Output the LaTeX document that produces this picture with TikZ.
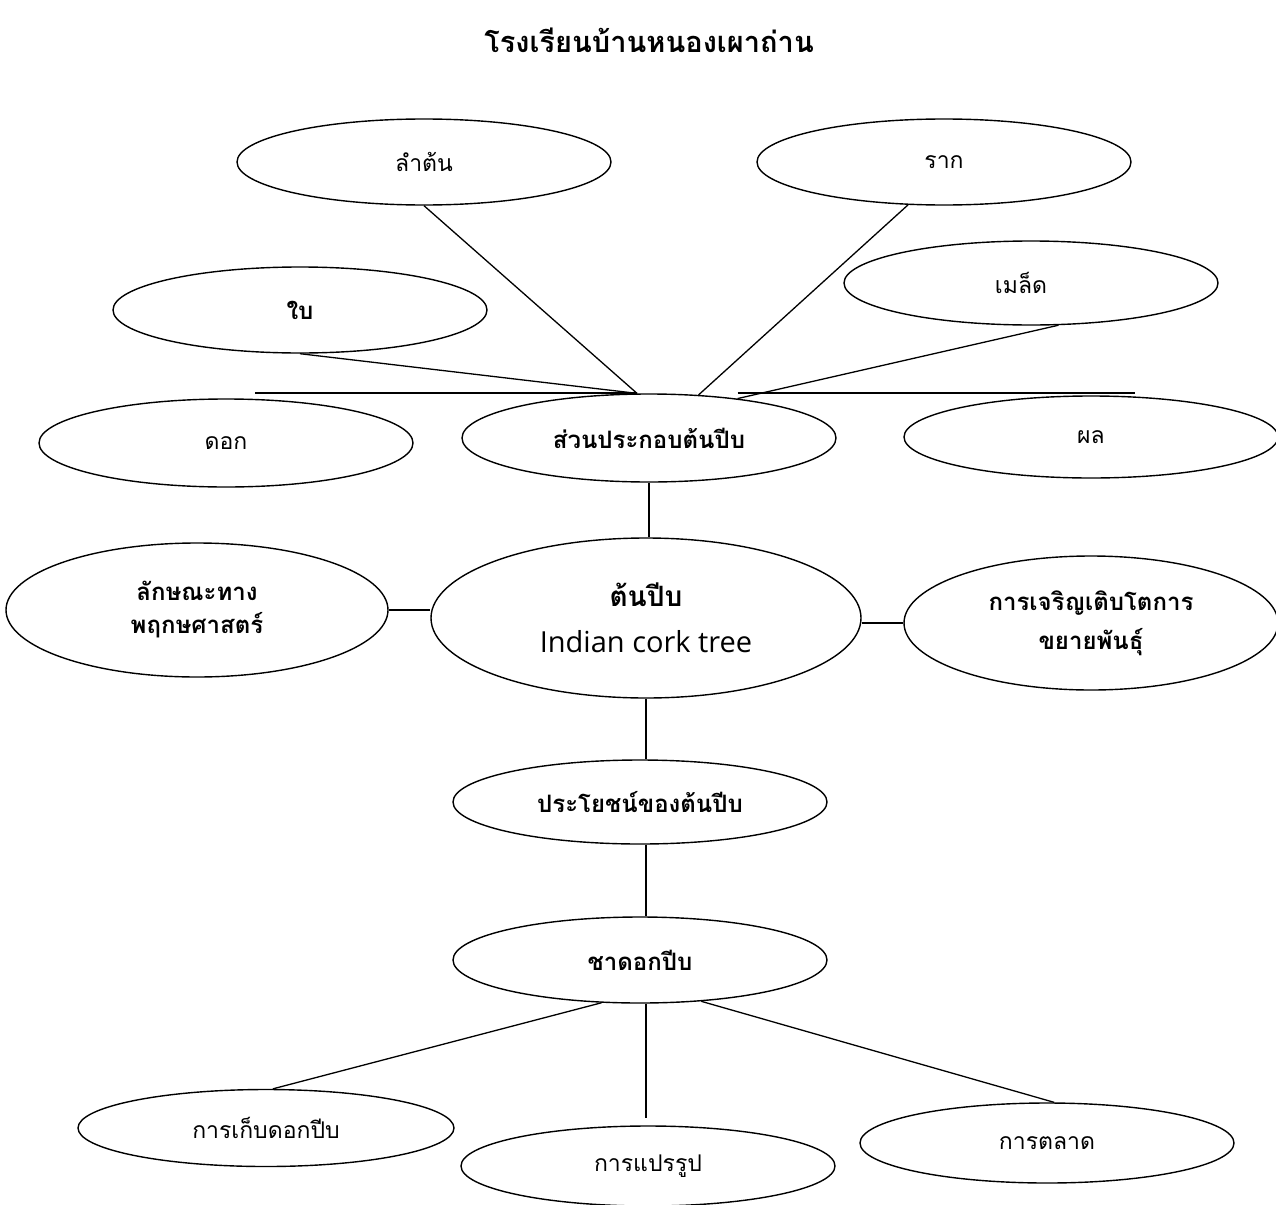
\documentclass[tikz,border=0pt]{standalone}
\usepackage{fontspec}
\setmainfont[Script=Thai]{Loma}
\newfontfamily\latinfont{Open Sans}
\usetikzlibrary{shapes.geometric,positioning}

\begin{document}
\begin{tikzpicture}[x=1pt,y=-1pt,
    bubble/.style={draw,ellipse,line width=1.4pt,inner sep=0pt,
        minimum width=374pt,minimum height=86pt,align=center,
        font=\fontsize{23}{27}\selectfont},
    boldbubble/.style={bubble,font=\fontsize{24}{33}\selectfont\bfseries},
    link/.style={line width=1.3pt}]
\useasboundingbox (0,0) rectangle (1276,1204);

\node[font=\fontsize{29}{34}\selectfont\bfseries] (title) at (649,40) {โรงเรียนบ้านหนองเผาถ่าน};

% parts of the tree
\node[bubble] (lamton) at (424,162) {ลำต้น};
\node[bubble] (rak) at (944,162) {ราก};
\node[boldbubble] (bai) at (300,310) {ใบ};
\node[bubble,minimum height=84pt] (maled) at (1031,283) {\hspace*{-20pt}เมล็ด};
\node[bubble,minimum height=88pt] (dok) at (226,443) {ดอก};
\node[boldbubble,minimum height=88pt] (suan) at (649,438) {ส่วนประกอบต้นปีบ};
\node[bubble,minimum height=82pt] (phon) at (1091,437) {ผล};

% centre row
\node[boldbubble,minimum width=382pt,minimum height=134pt] (laksana) at (197,610) {ลักษณะทาง\\พฤกษศาสตร์};
\node[bubble,minimum width=430pt,minimum height=160pt] (tonpeep) at (646,618)
    {{\bfseries\fontsize{28}{32}\selectfont ต้นปีบ}\\[19pt]{\latinfont\fontsize{29}{32}\selectfont Indian cork tree}};
\node[boldbubble,minimum height=134pt,font=\fontsize{24}{39}\selectfont\bfseries] (growth) at (1091,623) {การเจริญเติบโตการ\\ขยายพันธุ์};

% uses
\node[boldbubble,minimum height=84pt] (prayot) at (640,802) {ประโยชน์ของต้นปีบ};
\node[boldbubble] (chad) at (640,960) {ชาดอกปีบ};
\node[bubble,minimum width=376pt,minimum height=77pt] (kep) at (266,1128) {การเก็บดอกปีบ};
\node[bubble,minimum height=80pt] (plaeng) at (648,1166) {การแปรรูป};
\node[bubble,minimum height=80pt] (talad) at (1047,1143) {การตลาด};

\coordinate (dokline) at (255,393);
\coordinate (phonline) at (1135,393);

\draw[link] (bai.south) -- (suan.105);
\draw[link] (lamton.south) -- (suan.105);
\draw[link] (rak.230) -- (suan.41);
\draw[link] (maled.303) -- (suan.24);
\draw[link] (dokline) -- (dokline -| suan.105);
\draw[link] (phonline -| suan.24) -- (phonline);

\draw[link] (suan.south) -- (suan.south |- tonpeep.north);
\draw[link] (laksana.east) -- (laksana.east -| tonpeep.west);
\draw[link] (growth.west -| tonpeep.east) -- (growth.west);
\draw[link] (tonpeep.south) -- (tonpeep.south |- prayot.north);
\draw[link] (prayot.south -| tonpeep.south) -- (chad.north -| tonpeep.south);

\draw[link] (chad.228) -- (kep.80);
\draw[link,shorten >=7pt] (chad.south -| tonpeep.south) -- (plaeng.north -| tonpeep.south);
\draw[link] (chad.326) -- (talad.80);
\end{tikzpicture}
\end{document}
